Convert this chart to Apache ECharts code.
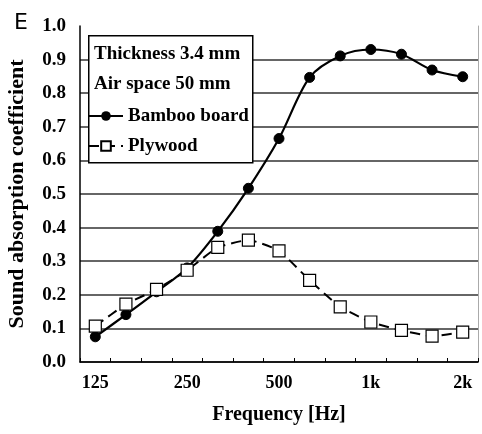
<!DOCTYPE html>
<html>
<head>
<meta charset="utf-8">
<script src="https://cdn.jsdelivr.net/npm/echarts@6/dist/echarts.min.js"></script>
<style>
  html, body { margin: 0; padding: 0; background: #fff; }
  #chart { width: 482px; height: 434px; }
</style>
</head>
<body>
<div id="chart"></div>
<script>
// One-third-octave band centre frequencies (Hz)
const frequencies = ['125', '160', '200', '250', '315', '400', '500', '630', '800', '1000', '1250', '1600', '2000'];
// Labels shown on the frequency axis
const freqTickLabels = { '125': '125', '250': '250', '500': '500', '1000': '1k', '2000': '2k' };
// Sound absorption coefficients
const bambooBoard = [0.075, 0.141, 0.209, 0.280, 0.389, 0.517, 0.665, 0.847, 0.911, 0.930, 0.916, 0.869, 0.849];
const plywood = [0.107, 0.172, 0.216, 0.273, 0.341, 0.363, 0.331, 0.243, 0.164, 0.119, 0.094, 0.077, 0.089];
// Specimen notes shown in the key
const notes = ['Thickness 3.4 mm', 'Air space 50 mm'];

const serif = '"Liberation Serif", "DejaVu Serif", serif';
const chart = echarts.init(document.getElementById('chart'), null, { renderer: 'canvas' });

// Grid lines: skip the topmost one at 1.0
const gridColors = [];
for (let i = 0; i <= 10; i++) gridColors.push(i === 10 ? 'transparent' : '#333');

chart.setOption({
  animation: false,
  backgroundColor: '#fff',
  title: {
    text: 'E', left: 9, top: 7,
    textStyle: { fontFamily: '"DejaVu Sans", sans-serif', fontWeight: 'normal', fontSize: 22, color: '#000' }
  },
  grid: { left: 80, right: 4, top: 26, bottom: 72, containLabel: false, outerBoundsMode: 'none' },
  legend: {
    orient: 'vertical', left: 88, top: 106, padding: 0, z: 6,
    itemWidth: 34, itemHeight: 12, itemGap: 10,
    textStyle: { fontFamily: serif, fontWeight: 'bold', fontSize: 19, color: '#000', lineHeight: 20 },
    data: ['Bamboo board', 'Plywood']
  },
  graphic: [
    {
      type: 'rect', left: 88, top: 35, z: 5,
      shape: { width: 164, height: 127 },
      style: { fill: '#fff', stroke: '#000', lineWidth: 1.5 }
    },
    {
      type: 'text', left: 94, top: 45, z: 6,
      style: { text: notes[0], fontFamily: serif, fontWeight: 'bold', fontSize: 19, fill: '#000' }
    },
    {
      type: 'text', left: 94, top: 75, z: 6,
      style: { text: notes[1], fontFamily: serif, fontWeight: 'bold', fontSize: 19, fill: '#000' }
    }
  ],
  xAxis: {
    type: 'category', data: frequencies, boundaryGap: true,
    name: 'Frequency [Hz]', nameLocation: 'middle', nameGap: 43,
    nameTextStyle: { fontFamily: serif, fontWeight: 'bold', fontSize: 20, color: '#000' },
    axisLine: { lineStyle: { color: '#000', width: 1.5 } },
    axisTick: { show: true, inside: true, length: 4, interval: 0, lineStyle: { color: '#000' } },
    axisLabel: {
      interval: 2, margin: 12, color: '#000',
      fontFamily: serif, fontWeight: 'bold', fontSize: 18,
      formatter: v => freqTickLabels[v] || ''
    },
    splitLine: { show: false }
  },
  yAxis: [
    {
      type: 'value', min: 0, max: 1, interval: 0.1,
      name: 'Sound absorption coefficient', nameLocation: 'middle', nameGap: 52,
      nameTextStyle: { fontFamily: serif, fontWeight: 'bold', fontSize: 22, color: '#000' },
      axisLine: { show: true, lineStyle: { color: '#000', width: 1.5 } },
      axisTick: { show: false },
      axisLabel: {
        margin: 14, color: '#000', fontFamily: serif, fontWeight: 'bold', fontSize: 19,
        formatter: v => v.toFixed(1)
      },
      splitLine: { show: true, lineStyle: { color: gridColors, width: 1.5 } }
    },
    {
      type: 'value', min: 0, max: 1, position: 'right',
      axisLine: { show: true, lineStyle: { color: '#aaa', width: 1 } },
      axisTick: { show: false }, axisLabel: { show: false }, splitLine: { show: false }
    }
  ],
  series: [
    {
      name: 'Bamboo board', type: 'line', data: bambooBoard,
      smooth: 0.3, symbol: 'circle', symbolSize: 10,
      lineStyle: { color: '#000', width: 2.2 },
      itemStyle: { color: '#000', borderColor: '#000' }
    },
    {
      name: 'Plywood', type: 'line', data: plywood,
      smooth: 0.15, symbol: 'rect', symbolSize: 12,
      lineStyle: { color: '#000', width: 2, type: [10, 6] },
      itemStyle: { color: '#fff', borderColor: '#000', borderWidth: 1.2 }
    }
  ]
});
</script>
</body>
</html>
